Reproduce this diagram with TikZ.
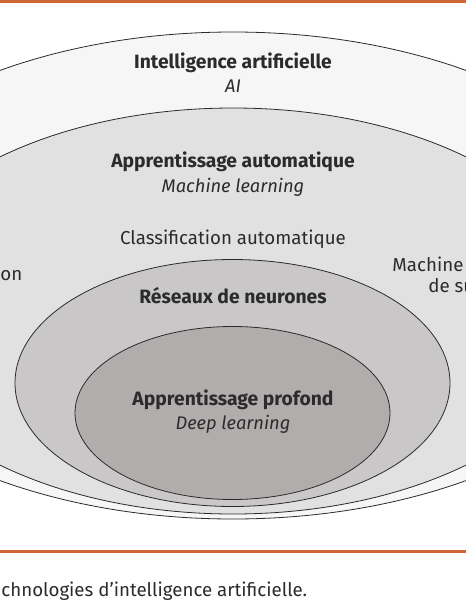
\documentclass[tikz,border=0pt]{standalone}
\usepackage{fontspec}
\setmainfont{Fira Sans}
\definecolor{rulecol}{HTML}{CD6535}
\definecolor{aifill}{HTML}{F6F6F6}
\definecolor{mlfill}{HTML}{E1E1E1}
\definecolor{nnfill}{HTML}{C9C7C7}
\definecolor{dlfill}{HTML}{B1ADAC}
\definecolor{ink}{HTML}{2B2B2B}
\begin{document}
\begin{tikzpicture}[x=1pt,y=-1pt,line width=.8pt,
  ring/.style={draw=ink},
  bold/.style={anchor=base,text=ink,font=\bfseries\fontsize{19.3}{22}\selectfont},
  ital/.style={anchor=base,text=ink,font=\itshape\fontsize{18.3}{22}\selectfont},
  txt/.style={anchor=base,text=ink,font=\fontsize{18.7}{22}\selectfont}]
\useasboundingbox (0,0) rectangle (466,600);
\begin{scope}
\clip (0,4) rectangle (466,548);
\filldraw[ring,fill=aifill] (233,275.5) ellipse [x radius=432,y radius=243.5];
\filldraw[ring,fill=mlfill] (233,311) ellipse [x radius=358,y radius=203];
\filldraw[ring,fill=nnfill] (232.5,383) ellipse [x radius=217.5,y radius=123.5];
\filldraw[ring,fill=dlfill] (232.5,413) ellipse [x radius=157.5,y radius=86.5];
\end{scope}
\draw[rulecol,line width=2.5pt] (0,1.25) -- (466,1.25);
\draw[rulecol,line width=2.5pt] (0,551.5) -- (466,551.5);
% labels
\node[bold] (ai) at (233,68) {Intelligence artificielle};
\node[ital] (aien) at (233,92) {AI};
\node[bold] (ml) at (233,167) {Apprentissage automatique};
\node[ital] (mlen) at (233,192) {Machine learning};
\node[txt] (clas) at (233,244) {Classification automatique};
\node[txt,anchor=base west,inner xsep=0pt] (left) at (0,280) {on};
\node[txt,anchor=base west,inner xsep=0pt] (svm1) at (392,271) {Machine};
\node[txt,anchor=base west,inner xsep=0pt] (svm2) at (428,292) {de su};
\node[bold] (nn) at (233,303) {Réseaux de neurones};
\node[bold] (dl) at (233,405) {Apprentissage profond};
\node[ital] (dlen) at (233,429) {Deep learning};
\node[txt,anchor=base west,inner xsep=0pt] (cap) at (1,596) {chnologies d’intelligence artificielle.};
\end{tikzpicture}
\end{document}
